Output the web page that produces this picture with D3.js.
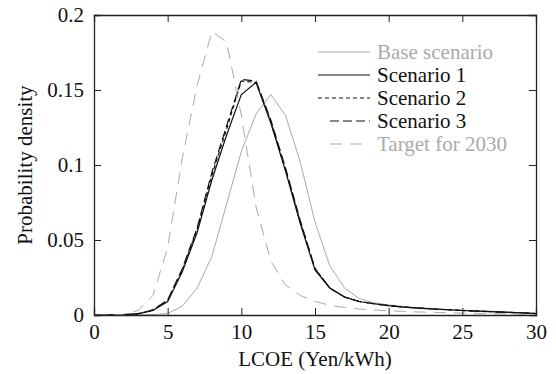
<!DOCTYPE html>
<html><head><meta charset="utf-8">
<script src="https://cdn.jsdelivr.net/npm/d3@7"></script>
<style>body{margin:0;background:#fff}svg{display:block}</style>
</head><body><svg id="c" width="556" height="374"></svg>
<script>
const lcoe = d3.range(0, 31);
const baseScenario = [0,0,0,0,0.0003,0.001,0.006,0.018,0.039,0.074,0.109,0.134,0.147,0.133,0.102,0.062,0.033,0.018,0.011,0.0082,0.0067,0.0057,0.0049,0.0043,0.0037,0.0032,0.0028,0.0024,0.002,0.0016,0.0012];
const scenario1 = [0,0,0.0002,0.0008,0.003,0.009,0.029,0.055,0.09,0.12,0.147,0.155,0.128,0.096,0.061,0.03,0.018,0.012,0.009,0.0075,0.0062,0.0053,0.0046,0.004,0.0035,0.003,0.0026,0.0022,0.0018,0.0014,0.001];
const scenario2 = [0,0,0.0002,0.0009,0.0033,0.0095,0.03,0.057,0.093,0.124,0.156,0.155,0.129,0.097,0.062,0.031,0.018,0.012,0.009,0.0075,0.0062,0.0053,0.0046,0.004,0.0035,0.003,0.0026,0.0022,0.0018,0.0014,0.001];
const scenario3 = [0,0,0.0002,0.0009,0.0034,0.01,0.031,0.058,0.095,0.126,0.157,0.156,0.13,0.098,0.063,0.031,0.018,0.012,0.009,0.0075,0.0062,0.0053,0.0046,0.004,0.0035,0.003,0.0026,0.0022,0.0018,0.0014,0.001];
const target2030 = [0,0,0.0005,0.003,0.013,0.045,0.105,0.153,0.189,0.182,0.133,0.072,0.036,0.02,0.013,0.009,0.0065,0.005,0.004,0.0033,0.0028,0.0024,0.002,0.0018,0.0015,0.0013,0.0011,0.0009,0.0007,0.0005,0.0004];
const xTicks = [0,5,10,15,20,25,30];
const yTicks = [0,0.05,0.1,0.15,0.2];
const seriesNames = ["Base scenario","Scenario 1","Scenario 2","Scenario 3","Target for 2030"];

const FONT = "Liberation Serif";
const series = [
  {name: seriesNames[0], values: baseScenario, color: "#aaa", width: 1, dash: null},
  {name: seriesNames[1], values: scenario1, color: "#111", width: 1.2, dash: null},
  {name: seriesNames[2], values: scenario2, color: "#111", width: 1.2, dash: "4,3"},
  {name: seriesNames[3], values: scenario3, color: "#111", width: 1.2, dash: "9,4"},
  {name: seriesNames[4], values: target2030, color: "#aaa", width: 1, dash: "12,8"}
];

const L = 94, R = 536, T = 15, B = 315;
const svg = d3.select("#c");
const x = d3.scaleLinear().domain([0,30]).range([L,R]);
const y = d3.scaleLinear().domain([0,0.2]).range([B,T]);

const line = d3.line().x((d,i)=>x(lcoe[i])).y(d=>y(d));
series.forEach(s=>{
  svg.append("path").attr("d", line(s.values)).attr("fill","none")
    .attr("stroke", s.color).attr("stroke-width", s.width)
    .attr("stroke-dasharray", s.dash);
});

const tl = 7;
const fs = 21;
const gx = svg.append("g").attr("transform",`translate(0,${B})`)
  .call(d3.axisBottom(x).tickValues(xTicks).tickSize(-tl).tickPadding(9).tickFormat(d3.format("d")));
const gxt = svg.append("g").attr("transform",`translate(0,${T})`)
  .call(d3.axisTop(x).tickValues(xTicks).tickSize(-tl).tickFormat(""));
const gy = svg.append("g").attr("transform",`translate(${L},0)`)
  .call(d3.axisLeft(y).tickValues(yTicks).tickSize(-tl).tickPadding(10).tickFormat(d=>d===0?"0":String(d)));
const gyr = svg.append("g").attr("transform",`translate(${R},0)`)
  .call(d3.axisRight(y).tickValues(yTicks).tickSize(-tl).tickFormat(""));
[gx,gxt,gy,gyr].forEach(g=>{
  g.attr("font-family", FONT).attr("font-size", fs);
  g.select(".domain").attr("stroke","#222").attr("stroke-width",1.3);
  g.selectAll(".tick line").attr("stroke","#222").attr("stroke-width",1);
  g.selectAll("text").attr("fill","#111");
});

svg.append("text").attr("x",(L+R)/2).attr("y",366).attr("text-anchor","middle")
  .attr("font-family",FONT).attr("font-size",fs).attr("fill","#111").text("LCOE (Yen/kWh)");
svg.append("text").attr("transform",`translate(32,${(T+B)/2}) rotate(-90)`).attr("text-anchor","middle")
  .attr("font-family",FONT).attr("font-size",fs).attr("fill","#111").text("Probability density");

const legY = [52,75,98,121,144];
series.forEach((s,i)=>{
  const yy = legY[i];
  const x0 = (i>=3) ? 330 : 318;
  svg.append("line").attr("x1",x0).attr("x2",370).attr("y1",yy).attr("y2",yy)
    .attr("stroke",s.color).attr("stroke-width",s.width).attr("stroke-dasharray",s.dash);
  svg.append("text").attr("x",377).attr("y",yy+7).attr("font-family",FONT).attr("font-size",fs)
    .attr("fill", s.color==="#aaa" ? "#aaa" : "#111").text(s.name);
});
</script></body></html>
